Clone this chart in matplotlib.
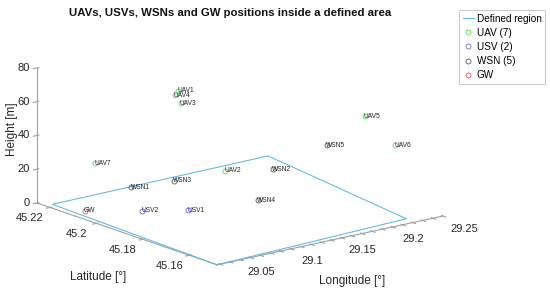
import matplotlib
matplotlib.use("Agg")
import matplotlib.pyplot as plt
from mpl_toolkits.mplot3d import proj3d
import numpy as np

plt.rcParams['font.family'] = ['Liberation Sans', 'DejaVu Sans']

# ---------------- data ----------------
region_lon = [29.027, 29.034, 29.250, 29.223, 29.027]
region_lat = [45.148, 45.222, 45.2234, 45.152, 45.148]

uav_names = ['UAV1', 'UAV2', 'UAV3', 'UAV4', 'UAV5', 'UAV6', 'UAV7']
uav_lon = [29.117, 29.138, 29.117, 29.116, 29.230, 29.242, 29.058]
uav_lat = [45.204, 45.193, 45.203, 45.205, 45.173, 45.165, 45.214]
uav_h = [65, 20, 58, 62, 50, 35, 25]

usv_names = ['USV1', 'USV2']
usv_lon = [29.106, 29.077]
usv_lat = [45.195, 45.202]
usv_h = [0, 0]

wsn_names = ['WSN1', 'WSN2', 'WSN3', 'WSN4', 'WSN5']
wsn_lon = [29.112, 29.230, 29.149, 29.166, 29.2305]
wsn_lat = [45.222, 45.2125, 45.220, 45.191, 45.1895]
wsn_h = [0, 0, 0, 0, 25]

gw_names = ['GW']
gw_lon = [29.042]
gw_lat = [45.2115]
gw_h = [0]

lon_lim = (29.027, 29.25)
lat_lim = (45.148, 45.2256)
h_lim = (0, 80)
lon_ticks = [29.05, 29.1, 29.15, 29.2, 29.25]
lon_small_ticks = [29.03, 29.04, 29.05, 29.06, 29.07, 29.08, 29.09, 29.1, 29.11, 29.12,
                   29.13, 29.14, 29.15, 29.16, 29.17, 29.18, 29.19, 29.2, 29.21, 29.22,
                   29.23, 29.24, 29.25]
lat_ticks = [45.16, 45.18, 45.2, 45.22]
h_ticks = [0, 20, 40, 60, 80]

legend_labels = ['Defined region', 'UAV (7)', 'USV (2)', 'WSN (5)', 'GW']

# ---------------- figure ----------------
W, H = 550, 292
fig = plt.figure(figsize=(W / 100, H / 100), dpi=100)
ax = fig.add_axes([0.1, 0.1, 0.8, 0.8], projection='3d')
ax.set_proj_type('ortho')
ax.view_init(elev=15.8, azim=-128.4)
ax.set_box_aspect((1, 1.005, 0.4865))

h_reg, = ax.plot(region_lon, region_lat, [0] * len(region_lon), color='#5cb8e6', lw=0.75)
mk = dict(linestyle='none', marker='o', mfc='none', ms=3.6, mew=0.6)
h_uav, = ax.plot(uav_lon, uav_lat, uav_h, mec='#55dd55', **mk)
h_usv, = ax.plot(usv_lon, usv_lat, usv_h, mec='#6666ee', **mk)
h_wsn, = ax.plot(wsn_lon, wsn_lat, wsn_h, mec='#555555', **mk)
h_gw, = ax.plot(gw_lon, gw_lat, gw_h, mec='#ee5555', **mk)

ax.set_xlim(*lon_lim)
ax.set_ylim(*lat_lim)
ax.set_zlim(*h_lim)
ax.set_xticks(lon_small_ticks)
ax.set_xticklabels([])
ax.set_yticks(lat_ticks)
ax.set_yticklabels([])
ax.set_zticks(h_ticks)
ax.set_zticklabels([])
ax.grid(False)
for a in (ax.xaxis, ax.yaxis, ax.zaxis):
    a.set_pane_color((1, 1, 1, 0))
    a.pane.set_edgecolor('none')
    a.line.set_color('#a0a0a0')
    a.line.set_linewidth(0.8)
ax.tick_params(axis='both', color='#a0a0a0')

# ---------- calibrate placement of the 3D box ----------
targets = {
    'X': ((lon_lim[1], lat_lim[0], 0), (443, 217)),
    'Y': ((lon_lim[0], lat_lim[1], 0), (37, 202)),
}

def project(x, y, z):
    M = ax.get_proj()
    x2, y2, _z = proj3d.proj_transform(x, y, z, M)
    dx, dy = ax.transData.transform((x2, y2))
    return np.array([dx, H - dy])

cx, cy, size = W / 2, H / 2, 250.0
for _ in range(4):
    ax.set_position([(cx - size / 2) / W, 1 - (cy + size / 2) / H, size / W, size / H])
    fig.canvas.draw()
    mX = project(*targets['X'][0])
    mY = project(*targets['Y'][0])
    tX = np.array(targets['X'][1]); tY = np.array(targets['Y'][1])
    s = np.linalg.norm(tX - tY) / np.linalg.norm(mX - mY)
    rel = (mX + mY) / 2 - np.array([cx, cy])
    size *= s
    cx, cy = (tX + tY) / 2 - rel * s

ax.set_position([(cx - size / 2) / W, 1 - (cy + size / 2) / H, size / W, size / H])
fig.canvas.draw()

def ftext(px, py, s, **kw):
    fig.text(px / W, 1 - py / H, s, **kw)

# point labels
for names, xs, ys, zs in [(uav_names, uav_lon, uav_lat, uav_h),
                          (usv_names, usv_lon, usv_lat, usv_h),
                          (wsn_names, wsn_lon, wsn_lat, wsn_h),
                          (gw_names, gw_lon, gw_lat, gw_h)]:
    for n, x, y, z in zip(names, xs, ys, zs):
        p = project(x, y, z)
        ftext(p[0] - 1, p[1], n, fontsize=4.8, ha='left', va='center', color='#222222')

# tick labels
tick_kw = dict(fontsize=8, color='#262626', va='center')
for v in lon_ticks:
    p = project(v, lat_lim[0], 0)
    ftext(p[0] + 21, p[1] + 12.5, f'{v:g}', ha='center', **tick_kw)
for v in lat_ticks:
    p = project(lon_lim[0], v, 0)
    ftext(p[0] - 20, p[1] + 10.5, f'{v:g}', ha='center', **tick_kw)
for v in h_ticks:
    p = project(lon_lim[0], lat_lim[1], v)
    ftext(p[0] - 7, p[1], f'{v:g}', ha='right', **tick_kw)

# ---------------- texts ----------------
ftext(230, 13, 'UAVs, USVs, WSNs and GW positions inside a defined area',
      ha='center', va='center', fontsize=8.2, fontweight='bold', color='#111111')
ftext(98, 277, 'Latitude [°]', ha='center', va='center', fontsize=8.5, color='#262626')
ftext(352, 281, 'Longitude [°]', ha='center', va='center', fontsize=8.5, color='#262626')
ftext(12, 129, 'Height [m]', ha='center', va='center', fontsize=8.5, rotation=90, color='#262626')

leg = fig.legend([h_reg, h_uav, h_usv, h_wsn, h_gw], legend_labels,
                 loc='upper right', bbox_to_anchor=(545 / W, 1 - 10 / H),
                 fontsize=7.2, frameon=True, fancybox=False, handlelength=1.1,
                 handletextpad=0.3, borderpad=0.35, labelspacing=0.42, borderaxespad=0)
leg.get_frame().set_edgecolor('#b0b0b0')
leg.get_frame().set_linewidth(0.6)

fig.savefig('out.png', dpi=100)
